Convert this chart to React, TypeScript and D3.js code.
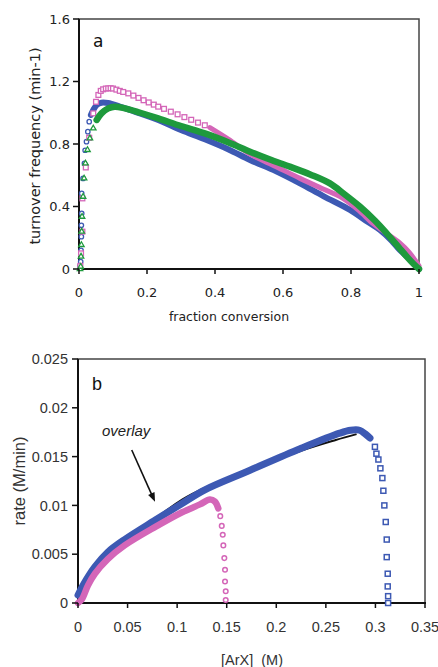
import React from "react";
import * as d3 from "d3";

const W = 438;
const H = 667;

// ---- panel a: turnover frequency vs fraction conversion ----
const aXTicks = [0, 0.2, 0.4, 0.6, 0.8, 1];
const aXLabels = ["0", "0.2", "0.4", "0.6", "0.8", "1"];
const aYTicks = [0, 0.4, 0.8, 1.2, 1.6];
const aYLabels = ["0", "0.4", "0.8", "1.2", "1.6"];

// blue circles
const blueA: [number, number][] = [
  [0.003, 0.02], [0.005, 0.047], [0.006, 0.12], [0.007, 0.207], [0.007, 0.28],
  [0.008, 0.356], [0.008, 0.484], [0.012, 0.58], [0.016, 0.676], [0.018, 0.76],
  [0.022, 0.815], [0.026, 0.879], [0.03, 0.943], [0.035, 0.986], [0.042, 1.018],
  [0.052, 1.05], [0.066, 1.064], [0.085, 1.062], [0.12, 1.04], [0.16, 1.01],
  [0.233, 0.954], [0.3, 0.89], [0.37, 0.83], [0.44, 0.765], [0.503, 0.698],
  [0.58, 0.625], [0.65, 0.548], [0.72, 0.465], [0.797, 0.378], [0.85, 0.3],
  [0.885, 0.25], [0.92, 0.18], [0.944, 0.12], [0.97, 0.07], [0.985, 0.035], [1.0, 0.0],
];

// pink squares
const pinkA: [number, number][] = [
  [0.004, 0.02], [0.006, 0.1], [0.01, 0.239], [0.01, 0.452], [0.02, 0.65],
  [0.03, 0.84], [0.042, 0.996], [0.05, 1.07], [0.057, 1.114], [0.064, 1.14],
  [0.071, 1.15], [0.079, 1.155], [0.086, 1.156], [0.093, 1.157], [0.1, 1.155],
  [0.11, 1.148], [0.12, 1.14], [0.13, 1.133], [0.145, 1.124], [0.16, 1.11],
  [0.175, 1.095], [0.19, 1.08], [0.205, 1.066], [0.22, 1.052], [0.233, 1.039],
  [0.25, 1.025], [0.27, 1.007], [0.29, 0.99], [0.31, 0.972], [0.33, 0.955],
  [0.35, 0.937], [0.37, 0.92], [0.385, 0.905], [0.44, 0.83], [0.503, 0.735],
  [0.58, 0.655], [0.65, 0.58], [0.72, 0.51], [0.768, 0.463], [0.82, 0.38],
  [0.865, 0.29], [0.9, 0.235], [0.944, 0.166], [0.97, 0.11], [0.988, 0.058], [1.0, 0.02],
];

// green triangles
const greenA: [number, number][] = [
  [0.003, 0.0], [0.005, 0.015], [0.006, 0.08], [0.007, 0.154], [0.008, 0.24],
  [0.009, 0.335], [0.012, 0.463], [0.015, 0.58], [0.019, 0.676], [0.025, 0.762],
  [0.032, 0.837], [0.042, 0.9], [0.052, 0.954], [0.066, 0.996], [0.086, 1.028],
  [0.105, 1.039], [0.135, 1.028], [0.18, 1.0], [0.233, 0.964], [0.3, 0.915],
  [0.37, 0.868], [0.44, 0.81], [0.503, 0.751], [0.56, 0.702], [0.62, 0.655],
  [0.68, 0.605], [0.738, 0.548], [0.78, 0.48], [0.826, 0.4], [0.87, 0.31],
  [0.905, 0.228], [0.94, 0.14], [0.964, 0.079], [0.985, 0.03], [1.0, 0.0],
];

// ---- panel b: rate vs [ArX] ----
const bXTicks = [0, 0.05, 0.1, 0.15, 0.2, 0.25, 0.3, 0.35];
const bXLabels = ["0", "0.05", "0.1", "0.15", "0.2", "0.25", "0.3", "0.35"];
const bYTicks = [0, 0.005, 0.01, 0.015, 0.02, 0.025];
const bYLabels = ["0", "0.005", "0.01", "0.015", "0.02", "0.025"];

// blue squares
const blueB: [number, number][] = [
  [0, 0.0008], [0.005, 0.0018], [0.017, 0.0037], [0.03, 0.0052], [0.047, 0.0065],
  [0.078, 0.0085], [0.105, 0.0102], [0.128, 0.0116], [0.1735, 0.0136], [0.224, 0.0158],
  [0.264, 0.0174], [0.275, 0.0177], [0.284, 0.0177], [0.29, 0.0173], [0.2945, 0.0169],
  [0.2995, 0.016], [0.301, 0.0153], [0.303, 0.0147], [0.305, 0.0138], [0.307, 0.0128],
  [0.308, 0.0115], [0.309, 0.01], [0.3104, 0.0083], [0.3114, 0.0065], [0.3114, 0.0047],
  [0.3124, 0.003], [0.3124, 0.0017], [0.3128, 0.0007], [0.3128, 0.0],
];

// pink circles
const pinkB: [number, number][] = [
  [0, 0], [0.004, 0.0004], [0.01, 0.0018], [0.017, 0.003], [0.03, 0.0045],
  [0.047, 0.0059], [0.078, 0.0078], [0.105, 0.0093], [0.123, 0.0101], [0.133, 0.0106],
  [0.138, 0.0104], [0.1415, 0.0097], [0.1435, 0.0089], [0.145, 0.0079], [0.146, 0.007],
  [0.1466, 0.0059], [0.1476, 0.0046], [0.1483, 0.0034], [0.1483, 0.0022], [0.149, 0.0012],
  [0.149, 0.0003],
];

// black overlay (fit)
const fitB: [number, number][] = [
  [0, 0], [0.01, 0.0022], [0.02, 0.0034], [0.05, 0.0067], [0.08, 0.0088],
  [0.105, 0.0106], [0.13, 0.0119], [0.175, 0.0137], [0.225, 0.0156], [0.26, 0.0167],
  [0.281, 0.0173],
];

const BLUE = "#3d59b3";
const PINK = "#d466b8";
const GREEN = "#1e9a3c";

const xA = d3.scaleLinear().domain([0, 1]).range([79, 419]);
const yA = d3.scaleLinear().domain([0, 1.6]).range([269, 19]);
const xB = d3.scaleLinear().domain([0, 0.35]).range([78, 425]);
const yB = d3.scaleLinear().domain([0, 0.025]).range([603, 359]);

type Pt = [number, number];

// dense stretch of a series, where the markers run together into a band
const band = (
  pts: Pt[],
  x: d3.ScaleLinear<number, number>,
  y: d3.ScaleLinear<number, number>,
  from: number,
  to: number
) =>
  d3
    .line<Pt>()
    .x((d) => x(d[0]))
    .y((d) => y(d[1]))
    .curve(d3.curveCatmullRom.alpha(0.5))(pts.filter((d) => d[0] >= from && d[0] <= to)) || "";

// sparse stretch, drawn as single markers
const sparse = (pts: Pt[], from: number, to: number) =>
  pts.filter((d) => d[0] < from || d[0] > to);

const tri = d3.symbol().type(d3.symbolTriangle).size(13)() || "";

const Frame = ({ x, y }: any) => {
  const [x0, x1] = x.range();
  const [y0, y1] = y.range();
  return (
    <g>
      <rect x={x0} y={y1} width={x1 - x0} height={y0 - y1} fill="none" stroke="#444" strokeWidth={1.5} />
      <line x1={x0} x2={x0} y1={y1} y2={y0 + 1} stroke="#111" strokeWidth={2} />
      <line x1={x0 - 1} x2={x1 + 1} y1={y0} y2={y0} stroke="#111" strokeWidth={2} />
    </g>
  );
};

const Ticks = ({ x, y, xt, xl, yt, yl, font, size, xLabY, yLabX, color }: any) => {
  const [y0] = y.range();
  const [x0] = x.range();
  return (
    <g fontFamily={font} fontSize={size} fill={color}>
      {xt.map((t: number, i: number) => (
        <g key={"x" + i}>
          <line x1={x(t)} x2={x(t)} y1={y0} y2={y0 + 5} stroke="#111" strokeWidth={1.5} />
          <text x={x(t)} y={xLabY} textAnchor="middle">{xl[i]}</text>
        </g>
      ))}
      {yt.map((t: number, i: number) => (
        <g key={"y" + i}>
          <line x1={x0 - 6} x2={x0} y1={y(t)} y2={y(t)} stroke="#111" strokeWidth={1.5} />
          <text x={yLabX} y={y(t)} dy="0.36em" textAnchor="end">{yl[i]}</text>
        </g>
      ))}
    </g>
  );
};

const arrowHead = (x1: number, y1: number, x2: number, y2: number, len: number, w: number) => {
  const a = Math.atan2(y2 - y1, x2 - x1);
  const bx = x2 - len * Math.cos(a);
  const by = y2 - len * Math.sin(a);
  const px = -Math.sin(a) * w;
  const py = Math.cos(a) * w;
  return `M${x2},${y2}L${bx + px},${by + py}L${bx - px},${by - py}Z`;
};

export default function App() {
  const ax1 = xB(0.0542), ay1 = yB(0.01568);
  const ax2 = xB(0.0777), ay2 = yB(0.01038);
  return (
    <svg width={W} height={H} style={{ position: "absolute", left: 0, top: 0, background: "#fff" }}>
      {/* ---------- panel a ---------- */}
      <Frame x={xA} y={yA} />
      <g>
        <path d={band(blueA, xA, yA, 0.035, 1)} fill="none" stroke={BLUE} strokeWidth={6} strokeLinecap="round" />
        {sparse(blueA, 0.035, 1).map((d, i) => (
          <circle key={"ba" + i} cx={xA(d[0])} cy={yA(d[1])} r={2.2} fill="#fff" stroke={BLUE} strokeWidth={1.3} />
        ))}
        <path d={band(pinkA, xA, yA, 0.38, 1)} fill="none" stroke={PINK} strokeWidth={5} strokeLinecap="round" />
        {sparse(pinkA, 0.38, 1).map((d, i) => (
          <rect key={"pa" + i} x={xA(d[0]) - 2.4} y={yA(d[1]) - 2.4} width={4.8} height={4.8} fill="#fff" stroke={PINK} strokeWidth={1.3} />
        ))}
        <path d={band(greenA, xA, yA, 0.05, 1)} fill="none" stroke={GREEN} strokeWidth={6.5} strokeLinecap="round" />
        {sparse(greenA, 0.05, 1).map((d, i) => (
          <path key={"ga" + i} d={tri} transform={`translate(${xA(d[0])},${yA(d[1])})`} fill="#fff" stroke={GREEN} strokeWidth={1.3} />
        ))}
      </g>
      <Ticks x={xA} y={yA} xt={aXTicks} xl={aXLabels} yt={aYTicks} yl={aYLabels}
        font="DejaVu Sans" size={13} xLabY={297} yLabX={70} color="#222" />
      <text x={xA(0.5) - 20} y={321} textAnchor="middle" fontFamily="DejaVu Sans" fontSize={12.5} fill="#222">
        fraction conversion
      </text>
      <text transform="translate(35,146) rotate(-90)" textAnchor="middle" dy="0.36em" fontFamily="DejaVu Sans" fontSize={14.5} fill="#222">
        turnover frequency (min-1)
      </text>
      <text x={xA(0.041)} y={yA(1.42)} fontFamily="DejaVu Sans" fontSize={17} fill="#111">a</text>

      {/* ---------- panel b ---------- */}
      <Frame x={xB} y={yB} />
      <path d={band(fitB, xB, yB, 0, 1)} fill="none" stroke="#111" strokeWidth={2} />
      <path d={band(blueB, xB, yB, 0, 0.2945)} fill="none" stroke={BLUE} strokeWidth={7} strokeLinecap="round" />
      {sparse(blueB, 0, 0.2945).map((d, i) => (
        <rect key={"bb" + i} x={xB(d[0]) - 2.5} y={yB(d[1]) - 2.5} width={5} height={5} fill="#fff" stroke={BLUE} strokeWidth={1.5} />
      ))}
      <path d={band(pinkB, xB, yB, 0, 0.1415)} fill="none" stroke={PINK} strokeWidth={6.5} strokeLinecap="round" />
      {sparse(pinkB, 0, 0.1415).map((d, i) => (
        <circle key={"pb" + i} cx={xB(d[0])} cy={yB(d[1])} r={2.3} fill="#fff" stroke={PINK} strokeWidth={1.5} />
      ))}
      <Ticks x={xB} y={yB} xt={bXTicks} xl={bXLabels} yt={bYTicks} yl={bYLabels}
        font="Liberation Sans" size={14.5} xLabY={632} yLabX={68} color="#333" />
      <text x={252} y={665} textAnchor="middle" fontFamily="Liberation Sans" fontSize={14.5} fill="#333" style={{ whiteSpace: "pre" }}>
        {"[ArX]  (M)"}
      </text>
      <text transform="translate(19,481) rotate(-90)" textAnchor="middle" dy="0.36em" fontFamily="Liberation Sans" fontSize={16.5} fill="#333">
        rate (M/min)
      </text>
      <text x={xB(0.0141)} y={yB(0.0218)} fontFamily="Liberation Sans" fontSize={18} fill="#111">b</text>
      <text x={xB(0.0242)} y={yB(0.0171)} fontFamily="Liberation Sans" fontStyle="italic" fontSize={15} fill="#222">overlay</text>
      <line x1={ax1} y1={ay1} x2={ax2 - 2} y2={ay2 - 4} stroke="#111" strokeWidth={1.6} />
      <path d={arrowHead(ax1, ay1, ax2, ay2, 9, 3.5)} fill="#111" />
    </svg>
  );
}
